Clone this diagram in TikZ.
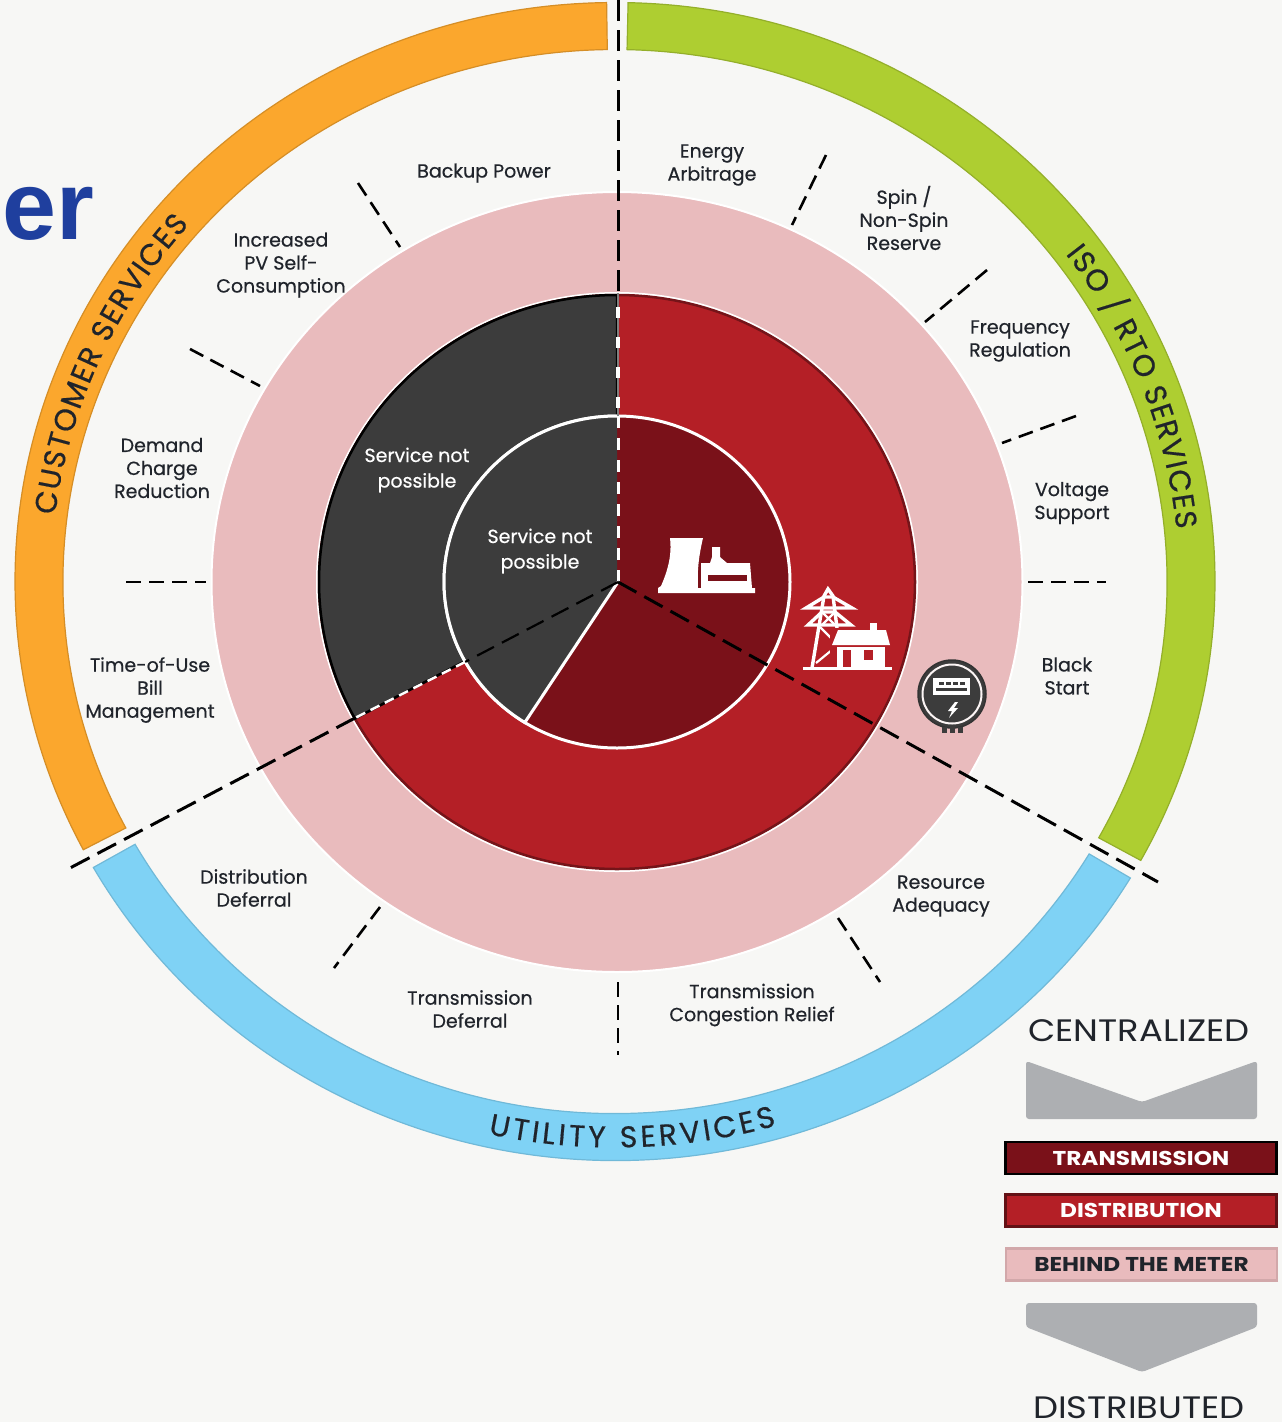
\documentclass[tikz,border=0pt]{standalone}
\usepackage{fontspec}
\setmainfont{Poppins}
\newfontfamily\titlefont{Liberation Sans}
\newfontfamily\labelfam{Poppins}[FakeBold=0.5]
\usetikzlibrary{decorations.text}
\definecolor{paper}{HTML}{F7F7F5}
\definecolor{pinkzone}{HTML}{E9BBBD}
\definecolor{redzone}{HTML}{B41F26}
\definecolor{deepred}{HTML}{7A1119}
\definecolor{darkzone}{HTML}{3C3C3C}
\definecolor{orangeband}{HTML}{FBA72D}
\definecolor{greenband}{HTML}{AECE31}
\definecolor{blueband}{HTML}{7FD2F5}
\definecolor{chevgrey}{HTML}{ADAFB2}
\definecolor{labelink}{HTML}{20242B}
\definecolor{titleblue}{HTML}{1F3F9E}
\newcommand{\labelfont}{\labelfam\fontsize{19}{23}\selectfont}
\newcommand{\bandfont}{\labelfam\fontsize{30}{30}\selectfont}
\newcommand{\bandseg}[3]{\draw [#1] ([shift={(#2:600 and 579)}]ringc) arc [start angle=#2,end angle=#3,x radius=600,y radius=579] -- ([shift={(#3:552 and 532)}]ringc) arc [start angle=#3,end angle=#2,x radius=552,y radius=532] -- cycle;}
\tikzset{
  svc/.style={font=\labelfont,text=labelink,align=center},
  nosvc/.style={font=\labelfam\fontsize{19}{25.5}\selectfont,text=white,align=center},
  tickline/.style={black,line width=2.6,dash pattern=on 15 off 8},
  cutline/.style={black,line width=3,dash pattern=on 21 off 9},
  bar/.style={minimum width=271,minimum height=32,line width=2.5},
  barword/.style={font=\fontsize{20}{20}\selectfont\bfseries,xscale=1.16},
  bigword/.style={font=\fontsize{31}{31}\selectfont,text=labelink,xscale=1.14},
  chevron/.style={fill=chevgrey,rounded corners=3},
  icon/.style={fill=white,draw=none},
  iconline/.style={white,line width=3.4}
}
\begin{document}
\begin{tikzpicture}[x=1pt,y=1pt]
  \tikzstyle{every node}+=[inner sep=0pt]
  \fill [paper] (0,0) rectangle (1282,-1422);
  \useasboundingbox (0,0) rectangle (1282,-1422);
  \coordinate (ringc) at (615,-581.5);
  \coordinate (discc) at (617,-582);
  \coordinate (hub) at (618,-582);
  \node (stub) [anchor=base west,font=\titlefont\fontsize{97}{97}\selectfont\bfseries,text=titleblue] at (2,-239) {er};
  \node (colon) [font=\titlefont\fontsize{50}{50}\selectfont,text=labelink] at (-3,-1123) {:};
  % outer bands
  \bandseg{fill=orangeband,draw=orangeband!85!black,line width=1.2}{90.8}{207.6}
  \bandseg{fill=greenband,draw=greenband!85!black,line width=1.2}{88.75}{-28.8}
  \bandseg{fill=blueband,draw=blueband!88!black,line width=1.2}{209.6}{329.2}
  \path [decorate,decoration={text along path,text={|\bandfont\color{labelink}|CUSTOMER SERVICES},text align={fit to path}}]
    ([shift={(173:564 and 544)}]ringc) arc [start angle=173,end angle=139,x radius=564,y radius=544];
  \path [decorate,decoration={text along path,text={|\bandfont\color{labelink}|ISO / RTO SERVICES},text align={fit to path}}]
    ([shift={(37:564 and 544)}]ringc) arc [start angle=37,end angle=5.5,x radius=564,y radius=544];
  \path [decorate,decoration={text along path,text={|\bandfont\color{labelink}|UTILITY SERVICES},text align={fit to path}}]
    ([shift={(257.5:586 and 566)}]ringc) arc [start angle=257.5,end angle=286,x radius=586,y radius=566];
  % discs
  \draw [white,line width=2,fill=pinkzone] (discc) ellipse [x radius=405.5,y radius=390];
  \draw [white,line width=2] (discc) ellipse [x radius=300,y radius=289];
  \draw [fill=redzone,draw=redzone!65!black,line width=2.5] (discc) ellipse [x radius=298,y radius=287];
  \draw [fill=darkzone,draw=black,line width=2.5] (discc) -- ([shift={(90:298 and 287)}]discc) arc [start angle=90,end angle=208.4,x radius=298,y radius=287] -- cycle;
  \draw [fill=deepred,draw=white,line width=3] (discc) ellipse [x radius=173,y radius=166];
  \fill [darkzone] (discc) -- ([shift={(90:172 and 165)}]discc) arc [start angle=90,end angle=237.8,x radius=172,y radius=165] -- cycle;
  \draw [white,line width=3] ([shift={(90:173 and 166)}]discc) arc [start angle=90,end angle=237.8,x radius=173,y radius=166] -- (hub);
  % service lines
  \coordinate (topend) at (618,0);
  \coordinate (topred) at (618,-293);
  \coordinate (topin) at (618,-416);
  \coordinate (leftend) at (70,-868);
  \coordinate (leftred) at (355,-718);
  \coordinate (leftin) at (465,-662);
  \coordinate (rightend) at (1158,-882);
  \draw [cutline] (topend) -- (topred);
  \draw [gray,line width=1.2] (topred) -- (topin);
  \draw [white,line width=3.4,dash pattern=on 11 off 19,dash phase=-14] (topred) -- (topin);
  \draw [white,line width=3,dash pattern=on 12 off 10] (topin) -- (hub);
  \draw [black,line width=2.2,dash pattern=on 19 off 9] (hub) -- (leftin);
  \draw [white,line width=2.5,dash pattern=on 10 off 6] (leftin) -- (leftred);
  \draw [cutline] (leftred) -- (leftend);
  \draw [cutline] (hub) -- (rightend);
  % ticks
  \coordinate (tka) at (358,-183);
  \coordinate (tkb) at (400,-247);
  \coordinate (tkc) at (190,-349);
  \coordinate (tkd) at (260,-386);
  \coordinate (tke) at (126,-582);
  \coordinate (tkf) at (206,-582);
  \coordinate (tkg) at (826,-155);
  \coordinate (tkh) at (792,-225);
  \coordinate (tki) at (987,-270);
  \coordinate (tkj) at (925,-322);
  \coordinate (tkk) at (1076,-416);
  \coordinate (tkl) at (1002,-443);
  \coordinate (tkm) at (1028,-582);
  \coordinate (tkn) at (1106,-582);
  \coordinate (tko) at (838,-918);
  \coordinate (tkp) at (880,-982);
  \coordinate (tkq) at (618,-982);
  \coordinate (tkr) at (618,-1055);
  \coordinate (tks) at (380,-907);
  \coordinate (tkt) at (334,-968);
  \draw [tickline] (tka) -- (tkb);
  \draw [tickline] (tkc) -- (tkd);
  \draw [tickline] (tke) -- (tkf);
  \draw [tickline] (tkg) -- (tkh);
  \draw [tickline] (tki) -- (tkj);
  \draw [tickline] (tkk) -- (tkl);
  \draw [tickline] (tkm) -- (tkn);
  \draw [tickline] (tko) -- (tkp);
  \draw [tickline] (tkq) -- (tkr);
  \draw [tickline] (tks) -- (tkt);
  % labels
  \node (backup) [svc] at (484,-173) {Backup Power};
  \node (energy) [svc] at (712,-165) {Energy\\Arbitrage};
  \node (spin) [svc] at (904,-218) {Spin /\\Non-Spin\\Reserve};
  \node (freq) [svc] at (1020,-341) {Frequency\\Regulation};
  \node (volt) [svc] at (1072,-503) {Voltage\\Support};
  \node (black) [svc] at (1067,-676) {Black\\Start};
  \node (adequacy) [svc] at (941,-896) {Resource\\Adequacy};
  \node (congest) [svc] at (752,-1005) {Transmission\\Congestion Relief};
  \node (transdef) [svc] at (470,-1009) {Transmission\\Deferral};
  \node (distdef) [svc] at (254,-888) {Distribution\\Deferral};
  \node (tou) [svc] at (150,-690) {Time-of-Use\\Bill\\Management};
  \node (demand) [svc] at (162,-468) {Demand\\Charge\\Reduction};
  \node (selfuse) [svc] at (281,-265) {Increased\\PV Self-\\Consumption};
  \node (nodist) [nosvc] at (417,-470) {Service not\\possible};
  \node (notrans) [nosvc] at (540,-551) {Service not\\possible};
  % power plant
  \fill [icon] (670,-538) -- (703,-538) .. controls (699,-555) and (697,-570) .. (698,-588) -- (755,-588) -- (755,-593) -- (658,-593) -- (658,-588) -- (661,-586) .. controls (668,-570) and (672,-555) .. (670,-538) -- cycle;
  \fill [icon] (701,-588) -- (701,-563) -- (710,-563) -- (712,-557) -- (712,-547) -- (720,-547) -- (720,-557) -- (727,-563) -- (750,-563) -- (752,-588) -- cycle;
  \fill [deepred] (708,-575) rectangle (747,-581);
  \draw [deepred,line width=1.5] (699.5,-566) -- (699.5,-586);
  % tower and house
  \draw [iconline] (812,-668) -- (824,-596) -- (828,-589) -- (833,-596) -- (842,-668);
  \draw [iconline] (806,-608) -- (824,-597) -- (833,-597) -- (852,-608) -- cycle;
  \draw [iconline] (808,-625) -- (822,-612) -- (835,-612) -- (851,-625) -- cycle;
  \draw [iconline,line width=2.2] (820,-627) -- (838,-645) -- (816,-663) (822,-612) -- (835,-625) (835,-612) -- (822,-625);
  \fill [redzone] (830,-628) rectangle (892,-668);
  \fill [icon] (870,-623) rectangle (877,-632);
  \fill [icon] (838,-630) -- (886,-630) -- (890,-645) -- (832,-645) -- cycle;
  \fill [icon] (837,-647) rectangle (885,-667);
  \fill [redzone] (843,-650) rectangle (851,-667);
  \fill [redzone] (864,-650) rectangle (873,-660);
  \fill [icon] (803,-667) rectangle (892,-670);
  % meter
  \draw [fill=darkzone,draw=black!80,line width=1.5] (952,-694) circle (34);
  \draw [white!85!pinkzone,line width=2] (952,-694) circle (29.5);
  \fill [icon] (933,-678) rectangle (970,-695);
  \fill [darkzone] (939,-682) rectangle (944,-685);
  \fill [darkzone] (946,-682) rectangle (951,-685);
  \fill [darkzone] (953,-682) rectangle (958,-685);
  \fill [darkzone] (960,-682) rectangle (965,-685);
  \fill [darkzone] (936,-688) rectangle (967,-691);
  \fill [icon] (955,-702) -- (948,-711) -- (952,-711) -- (949,-718) -- (958,-708) -- (954,-708) -- (958,-702) -- cycle;
  \fill [darkzone] (942,-727) rectangle (947,-733);
  \fill [darkzone] (950,-727) rectangle (955,-733);
  \fill [darkzone] (958,-727) rectangle (963,-733);
  % legend
  \node (central) [bigword] at (1139,-1031) {CENTRALIZED};
  \fill [chevron] (1026,-1061) -- (1142,-1102) -- (1257,-1061) -- (1257,-1119) -- (1026,-1119) -- cycle;
  \node (transbar) [bar,fill=deepred,draw=black] at (1141,-1158) {};
  \node (distbar) [bar,fill=redzone,draw=redzone!55!black] at (1141,-1210.5) {};
  \node (meterbar) [bar,fill=pinkzone,draw=pinkzone!90!black] at (1141.5,-1264.5) {};
  \node (transword) [barword,text=white] at (transbar) {TRANSMISSION};
  \node (distword) [barword,text=white] at (distbar) {DISTRIBUTION};
  \node (meterword) [barword,text=labelink] at (meterbar) {BEHIND THE METER};
  \fill [chevron] (1026,-1303) -- (1257,-1303) -- (1257,-1327) -- (1142,-1372) -- (1026,-1327) -- cycle;
  \node (distrib) [bigword] at (1139,-1408) {DISTRIBUTED};
\end{tikzpicture}
\end{document}
